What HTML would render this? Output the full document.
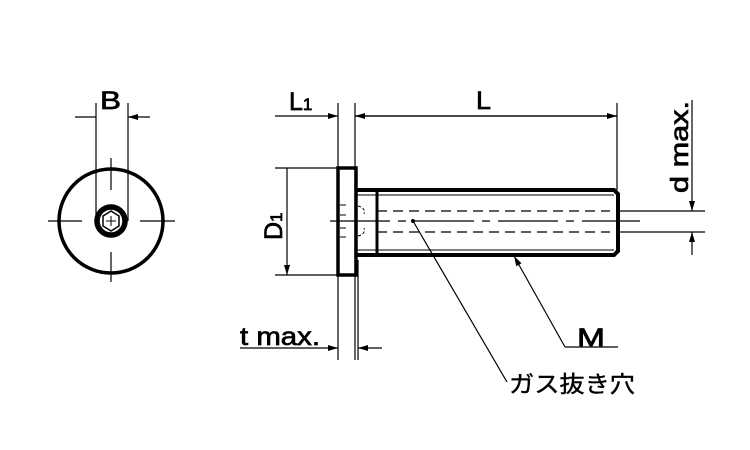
<!DOCTYPE html>
<html><head><meta charset="utf-8"><style>body{margin:0;background:#fff}svg{display:block}</style></head><body>
<svg width="750" height="450" xmlns="http://www.w3.org/2000/svg" font-family="Liberation Sans, Noto Sans CJK JP, sans-serif">
<defs><marker id="a" viewBox="0 0 10 6" refX="10" refY="3" markerWidth="11" markerHeight="6" orient="auto" markerUnits="userSpaceOnUse"><path d="M0,0L10,3L0,6z" fill="#000"/></marker></defs>
<g stroke="#000" fill="none">
<circle cx="111" cy="221" r="52" stroke-width="3.5"/>
<circle cx="111" cy="221" r="14" stroke-width="5.5"/>
<path d="M111,211l8,5v10l-8,5l-8,-5v-10z" stroke-width="1.5"/>
<path d="M106,221h10M111,216v10" stroke-width="1"/>
<path d="M48,221h34M140,221h35M111,158v32M111,252v30" stroke-width="1.2"/>
<path d="M96,103v118M128,103v118" stroke-width="1.2"/>
<path d="M75,117h21M150,117h-22" stroke-width="1.2" marker-end="url(#a)"/>
<rect x="338" y="168" width="18" height="107" stroke-width="3.5"/>
<path d="M356,190H614l4,4v57l-4,4H356" stroke-width="4"/>
<path d="M356,195H614M356,250H614" stroke-width="1"/>
<path d="M377,192v61" stroke-width="3"/>
<path d="M377,211H610M377,232H610" stroke-width="1.3" stroke-dasharray="10,6"/>
<path d="M330,221H640" stroke-width="1.2" stroke-dasharray="60,8,8,8"/>
<path d="M340,205h6M340,215h6M340,228h6M340,237h6" stroke-width="1"/>
<path d="M358,206q8,2 6,8M358,236q8,-2 6,-8" stroke-width="1" stroke-dasharray="3,2"/>
<path d="M338,103v257M355,103v257M617,103v87" stroke-width="1.2"/>
<path d="M275,116h63" stroke-width="1.2" marker-end="url(#a)"/>
<path d="M617,116H355" stroke-width="1.2" marker-end="url(#a)"/>
<path d="M355,116H617" stroke-width="1.2" marker-end="url(#a)"/>
<path d="M275,168h63M275,275h63" stroke-width="1.2"/>
<path d="M287,221v-53M287,221v54" stroke-width="1.2" marker-end="url(#a)"/>
<path d="M240,348h98" stroke-width="1.2" marker-end="url(#a)"/>
<path d="M382,348h-24" stroke-width="1.2" marker-end="url(#a)"/>
<path d="M358,260v100" stroke-width="1.2"/>
<path d="M617,211h88M617,232h88" stroke-width="1.2"/>
<path d="M692,100v111" stroke-width="1.2" marker-end="url(#a)"/>
<path d="M692,255v-23" stroke-width="1.2" marker-end="url(#a)"/>
<path d="M565,347L514,256" stroke-width="1.2" marker-end="url(#a)"/>
<path d="M565,347h53" stroke-width="1.2"/>
<path d="M413,221L507,382" stroke-width="1.2"/>
<circle cx="413" cy="221" r="2" fill="#000" stroke="none"/>
</g>
<g fill="#000" stroke="#000" stroke-width="0.7" font-size="25">
<text x="100" y="109" textLength="21" lengthAdjust="spacingAndGlyphs">B</text>
<text x="289" y="110">L<tspan font-size="17">1</tspan></text>
<text x="476" y="109" textLength="15" lengthAdjust="spacingAndGlyphs">L</text>
<text x="240" y="345" textLength="80" lengthAdjust="spacingAndGlyphs">t max.</text>
<text x="577" y="346" textLength="28" lengthAdjust="spacingAndGlyphs">M</text>
<text x="509" y="392" font-size="23" stroke-width="0.4" textLength="126" lengthAdjust="spacingAndGlyphs">ガス抜き穴</text>
<text transform="translate(282,240) rotate(-90)">D<tspan font-size="17">1</tspan></text>
<text transform="translate(688,193) rotate(-90)" textLength="92" lengthAdjust="spacingAndGlyphs">d max.</text>
</g>
</svg>
</body></html>
